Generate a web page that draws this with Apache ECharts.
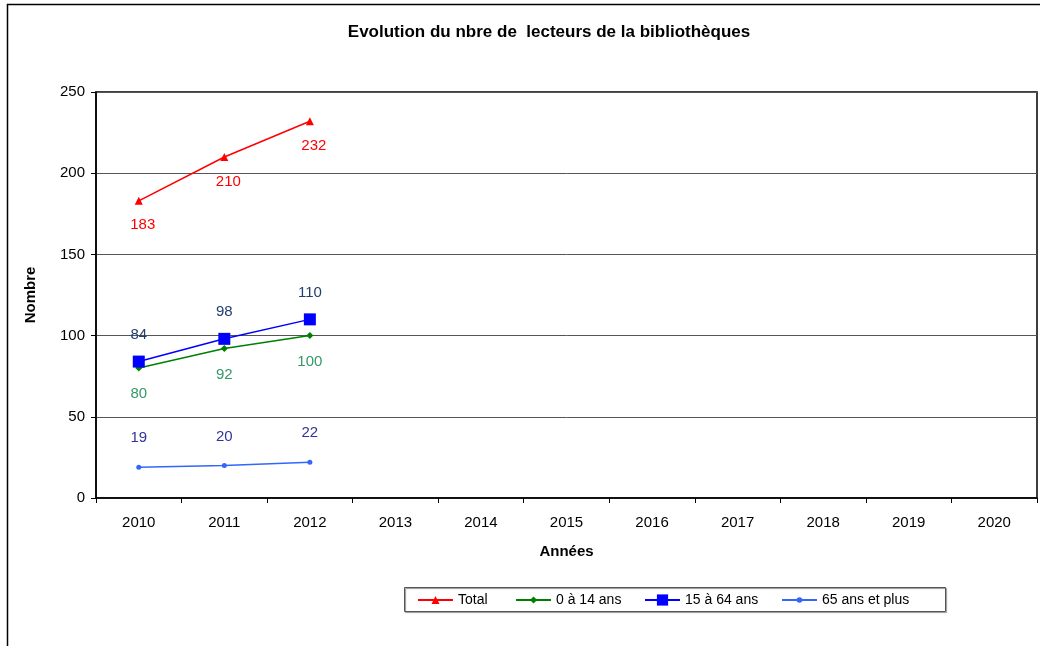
<!DOCTYPE html>
<html>
<head>
<meta charset="utf-8">
<title>Evolution du nbre de lecteurs</title>
<script src="https://cdn.jsdelivr.net/npm/echarts@6/dist/echarts.min.js"></script>
<style>
  html, body { margin: 0; padding: 0; background: #fff; }
  #chart { width: 1040px; height: 646px; }
</style>
</head>
<body>
<div id="chart"></div>
<script>
// données
var annees = ['2010', '2011', '2012', '2013', '2014', '2015', '2016', '2017', '2018', '2019', '2020']
var total = [183, 210, 232]
var age0a14 = [80, 92, 100]
var age15a64 = [84, 98, 110]
var age65plus = [19, 20, 22]
var nomsSeries = ['Total', '0 à 14 ans', '15 à 64 ans', '65 ans et plus']

var police = "'Liberation Sans', Arial, sans-serif"

var chart = echarts.init(document.getElementById('chart'))

function ligne(nom, data, couleur, symbole, taille, couleurLabel, position, distance, decalage) {
    return {
        name: nom,
        type: 'line',
        data: data,
        symbol: symbole,
        symbolSize: taille,
        showAllSymbol: true,
        lineStyle: { color: couleur, width: 1.5 },
        itemStyle: { color: couleur },
        label: {
            show: true,
            position: position,
            distance: distance,
            offset: decalage || [0, 0],
            color: couleurLabel,
            fontSize: 15,
            fontFamily: police
        },
        emphasis: { disabled: true },
        animation: false
    }
}

// une légende par série pour avoir des marqueurs de tailles différentes
function legende(nom, gauche, hauteur) {
    return {
        data: [nom],
        left: gauche,
        top: 593,
        padding: 0,
        itemWidth: 35,
        itemHeight: hauteur,
        selectedMode: false,
        textStyle: { fontSize: 14, color: '#000', fontFamily: police }
    }
}

chart.setOption({
    backgroundColor: '#fff',
    animation: false,
    textStyle: { fontFamily: police },
    title: {
        text: 'Evolution du nbre de  lecteurs de la bibliothèques',
        left: 544,
        textAlign: 'center',
        top: 19,
        textStyle: { fontSize: 17, fontWeight: 'bold', color: '#000', fontFamily: police }
    },
    graphic: [
        {
            type: 'rect',
            shape: { x: 7.5, y: 4.5, width: 1100, height: 700 },
            style: { fill: 'none', stroke: '#000', lineWidth: 1.5 },
            silent: true
        },
        {
            type: 'rect',
            shape: { x: 404.5, y: 587.5, width: 541, height: 24 },
            style: {
                fill: 'none', stroke: '#555', lineWidth: 1,
                shadowColor: 'rgba(0,0,0,0.45)', shadowOffsetX: 1, shadowOffsetY: 1, shadowBlur: 1
            },
            silent: true
        }
    ],
    grid: {
        left: 96,
        top: 92,
        right: 3,
        bottom: 148,
        show: true,
        borderColor: '#000',
        borderWidth: 1.5
    },
    legend: [
        legende(nomsSeries[0], 417, 10),
        legende(nomsSeries[1], 515, 9),
        legende(nomsSeries[2], 644, 14),
        legende(nomsSeries[3], 781, 7)
    ],
    xAxis: {
        type: 'category',
        data: annees,
        boundaryGap: true,
        name: 'Années',
        nameLocation: 'middle',
        nameGap: 46,
        nameTextStyle: { fontSize: 15, fontWeight: 'bold', color: '#000' },
        axisLine: { lineStyle: { color: '#000', width: 1.5 } },
        axisTick: { show: true, length: 5, lineStyle: { color: '#000' } },
        axisLabel: { fontSize: 15, color: '#000', margin: 17 },
        splitLine: { show: false }
    },
    yAxis: {
        type: 'value',
        min: 0,
        max: 250,
        interval: 50,
        name: 'Nombre',
        nameLocation: 'middle',
        nameGap: 58,
        nameTextStyle: { fontSize: 15, fontWeight: 'bold', color: '#000' },
        axisLine: { show: true, lineStyle: { color: '#000', width: 1.5 } },
        axisTick: { show: true, length: 5, lineStyle: { color: '#000' } },
        axisLabel: { fontSize: 15, color: '#000', margin: 11 },
        splitLine: { show: true, lineStyle: { color: '#555', width: 1 } }
    },
    series: [
        ligne(nomsSeries[0], total, '#ff0000', 'triangle', 8, '#ff0000', 'bottom', 12, [4, 1]),
        ligne(nomsSeries[1], age0a14, '#008000', 'diamond', 7, '#339966', 'bottom', 15),
        ligne(nomsSeries[2], age15a64, '#0000ff', 'rect', 12, '#1f3f70', 'top', 13),
        ligne(nomsSeries[3], age65plus, '#3366ff', 'circle', 5, '#333399', 'top', 19)
    ]
})
</script>
</body>
</html>
